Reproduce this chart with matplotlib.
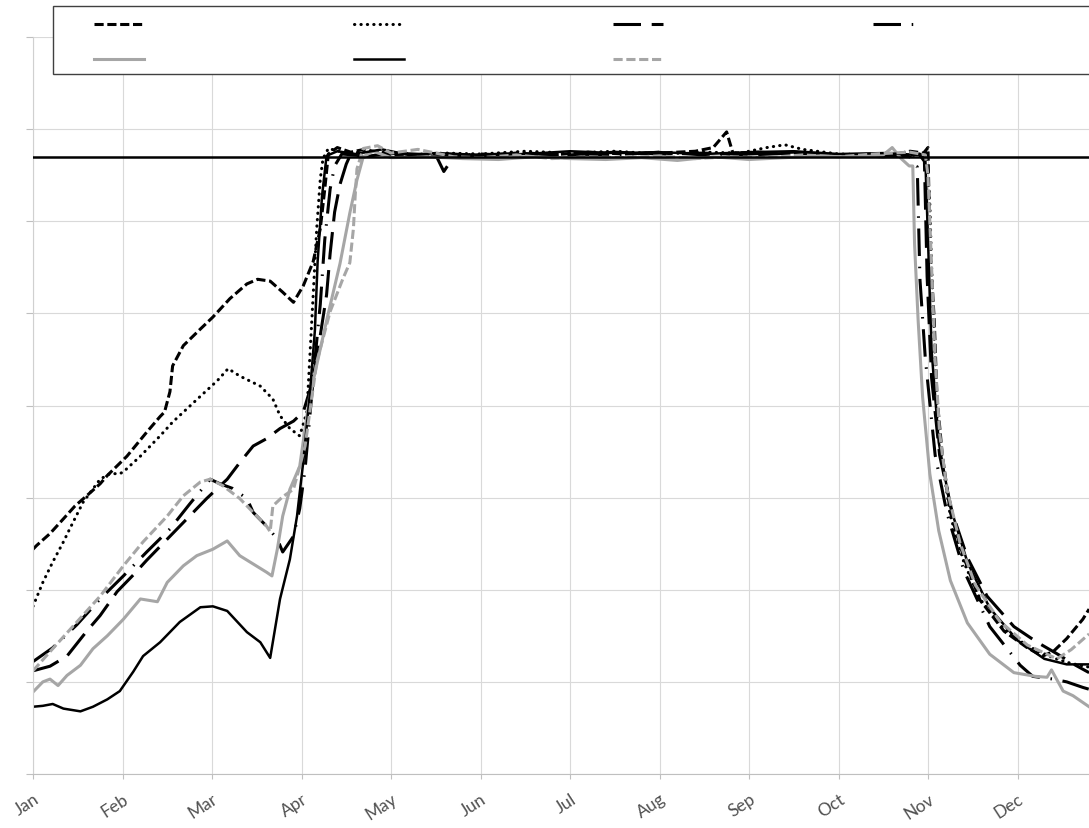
import matplotlib
matplotlib.use('Agg')
import matplotlib.pyplot as plt
from matplotlib.patches import Rectangle

# x positions are in months since 1 Jan (0 = Jan, 1 = Feb, ...), y in chart units
months = ['Jan', 'Feb', 'Mar', 'Apr', 'May', 'Jun', 'Jul', 'Aug', 'Sep', 'Oct', 'Nov', 'Dec']
limit_value = 67.0

dash_t = [0, 0.04, 0.19, 0.34, 0.47, 0.60, 0.75, 0.83, 1.05, 1.27, 1.42, 1.47, 1.53, 1.56, 1.68, 1.87, 2.01,
          2.20, 2.39, 2.51, 2.65, 2.79, 2.91, 3.02, 3.13, 3.21, 3.26, 3.30, 3.40, 3.55, 3.70, 4.0, 4.3, 4.6,
          5.0, 5.4, 5.8, 6.2, 6.6, 7.0, 7.4, 7.6, 7.75, 7.82, 8.1, 8.5, 8.9, 9.3, 9.6, 9.8, 9.95, 10.0,
          10.02, 10.07, 10.10, 10.16, 10.25, 10.40, 10.58, 10.85, 11.11, 11.28, 11.40, 11.55, 11.73, 11.80]
dash_v = [24.4, 24.8, 26.1, 27.7, 29.1, 30.2, 31.5, 32.4, 34.5, 37.1, 38.8, 39.3, 41.5, 44.3, 46.5, 48.3, 49.6,
          51.6, 53.2, 53.7, 53.5, 52.3, 51.2, 53.0, 55.6, 59.2, 63.5, 67.3, 68.0, 67.5, 67.8, 67.2, 67.0, 67.3,
          67.1, 67.4, 67.2, 67.5, 67.3, 67.4, 67.6, 68.0, 69.7, 67.4, 67.5, 67.3, 67.2, 67.1, 67.2, 67.6, 67.4, 68.0,
          57.5, 49.2, 40.9, 34.6, 28.4, 23.5, 18.9, 15.5, 13.7, 12.8, 13.3, 14.7, 16.8, 17.9]

dot_t = [0, 0.11, 0.22, 0.34, 0.41, 0.56, 0.75, 0.86, 0.97, 1.01, 1.20, 1.42, 1.56, 1.87, 2.06, 2.18, 2.31,
         2.54, 2.68, 2.76, 2.87, 2.98, 3.06, 3.09, 3.13, 3.17, 3.21, 3.24, 3.30, 3.5, 3.8, 4.2, 4.6, 5.0,
         5.5, 6.0, 6.5, 7.0, 7.5, 7.9, 8.2, 8.4, 8.6, 9.0, 9.4, 9.8, 9.98, 10.02, 10.04, 10.07, 10.10,
         10.16, 10.25, 10.40, 10.58, 10.85, 11.11, 11.40, 11.60, 11.80]
dot_v = [18.2, 20.8, 23.0, 25.2, 26.6, 29.5, 32.0, 32.6, 32.6, 32.8, 34.5, 36.7, 38.2, 41.0, 42.7, 44.0, 43.2,
         42.1, 40.7, 38.9, 37.5, 36.7, 39.3, 44.7, 51.9, 59.2, 64.6, 66.8, 67.9, 67.4, 67.6, 67.2, 67.4, 67.3,
         67.6, 67.4, 67.6, 67.3, 67.5, 67.4, 68.0, 68.3, 67.8, 67.3, 67.2, 67.1, 67.4, 62.0, 55.0, 47.0, 40.0,
         34.0, 28.0, 23.0, 19.0, 15.7, 13.9, 12.6, 12.0, 11.6]

longdash_t = [0, 0.19, 0.38, 0.60, 0.75, 0.94, 1.12, 1.27, 1.50, 1.72, 1.94, 2.17, 2.31, 2.46, 2.61, 2.76,
              2.91, 3.02, 3.12, 3.20, 3.28, 3.32, 3.37, 3.43, 3.50, 3.55, 3.7, 4.0, 4.5, 4.59, 4.7, 5.0, 5.5,
              6.0, 6.5, 7.0, 7.5, 8.0, 8.5, 9.0, 9.5, 9.9, 9.96, 9.99, 10.04, 10.13, 10.27, 10.44, 10.66,
              10.96, 11.22, 11.45, 11.65, 11.80]
longdash_v = [11.2, 11.7, 12.8, 15.5, 17.2, 19.8, 21.6, 23.2, 25.5, 27.7, 29.9, 32.0, 33.8, 35.6, 36.4, 37.5,
              38.3, 39.3, 42.5, 47.0, 52.0, 56.5, 61.0, 64.0, 66.2, 67.3, 67.0, 67.4, 67.2, 65.4, 67.0, 67.2, 67.4,
              67.2, 67.5, 67.3, 67.4, 67.2, 67.4, 67.2, 67.0, 67.3, 66.5, 54.0, 43.0, 34.6, 28.4, 23.5, 19.3,
              16.0, 14.3, 13.0, 11.8, 11.0]

dashdot_t = [0, 0.22, 0.49, 0.75, 1.01, 1.27, 1.53, 1.75, 1.92, 1.98, 2.09, 2.23, 2.39, 2.46, 2.61, 2.73,
             2.79, 2.91, 2.98, 3.04, 3.09, 3.15, 3.21, 3.26, 3.32, 3.37, 3.45, 3.7, 4.1, 4.5, 5.0, 5.5, 6.0,
             6.5, 7.0, 7.5, 8.0, 8.5, 9.0, 9.5, 9.8, 9.86, 9.88, 9.91, 9.97, 10.08, 10.21, 10.40, 10.69,
             11.03, 11.17, 11.40, 11.55, 11.73, 11.80]
dashdot_v = [12.2, 13.7, 16.2, 19.0, 21.5, 24.1, 26.6, 29.3, 31.3, 32.0, 31.5, 31.0, 29.9, 28.4, 26.9, 25.5,
             24.1, 25.8, 28.8, 33.1, 38.5, 45.0, 51.0, 58.0, 63.5, 66.0, 67.3, 67.1, 67.4, 67.0, 67.3, 67.1, 67.3,
             67.2, 67.5, 67.2, 67.3, 67.5, 67.1, 67.3, 67.0, 66.0, 65.9, 53.7, 45.1, 34.6, 28.4, 22.1, 16.0,
             11.8, 10.6, 10.3, 10.0, 9.4, 9.2]

gray_t = [0, 0.11, 0.19, 0.28, 0.38, 0.53, 0.67, 0.83, 1.01, 1.20, 1.39, 1.50, 1.68, 1.83, 2.01, 2.17, 2.31,
          2.46, 2.61, 2.67, 2.73, 2.79, 2.87, 2.98, 3.09, 3.28, 3.43, 3.54, 3.62, 3.69, 3.8, 4.0, 4.4, 4.8,
          5.2, 5.6, 6.0, 6.4, 6.8, 7.2, 7.6, 8.0, 8.4, 8.8, 9.2, 9.5, 9.6, 9.7, 9.79, 9.83, 9.85, 9.89,
          9.94, 10.02, 10.12, 10.25, 10.44, 10.69, 10.96, 11.20, 11.33, 11.38, 11.51, 11.62, 11.80]
gray_v = [8.9, 10.0, 10.3, 9.6, 10.7, 11.8, 13.6, 15.0, 16.8, 19.0, 18.7, 20.8, 22.6, 23.7, 24.4, 25.3, 23.7,
          22.8, 21.9, 21.5, 24.4, 28.0, 30.9, 33.4, 40.9, 49.2, 55.4, 60.9, 64.5, 67.0, 67.6, 66.9, 67.0, 66.8,
          66.7, 67.0, 66.8, 66.7, 66.9, 66.6, 67.0, 66.7, 66.9, 67.1, 67.0, 67.2, 68.0, 66.8, 66.0, 66.0, 57.5,
          49.2, 40.9, 32.6, 26.4, 21.0, 16.4, 13.0, 11.0, 10.6, 10.5, 11.3, 9.0, 8.5, 7.3]

solid_t = [0, 0.11, 0.22, 0.34, 0.53, 0.67, 0.83, 0.97, 1.12, 1.23, 1.42, 1.64, 1.87, 2.01, 2.17, 2.39, 2.54,
           2.65, 2.76, 2.87, 2.95, 3.02, 3.09, 3.15, 3.18, 3.23, 3.28, 3.4, 3.6, 3.9, 4.2, 4.5, 5.0, 5.5,
           6.0, 6.5, 7.0, 7.5, 8.0, 8.5, 9.0, 9.5, 9.9, 9.97, 10.0, 10.04, 10.12, 10.25, 10.44, 10.69, 11.0,
           11.3, 11.55, 11.80]
solid_v = [7.3, 7.4, 7.6, 7.1, 6.8, 7.3, 8.1, 9.0, 11.1, 12.8, 14.3, 16.5, 18.1, 18.2, 17.7, 15.4, 14.3,
           12.6, 19.0, 23.3, 28.0, 33.9, 40.9, 48.2, 55.6, 62.8, 67.1, 67.6, 67.3, 67.8, 67.2, 67.4, 67.2, 67.3,
           67.6, 67.4, 67.5, 67.3, 67.5, 67.6, 67.3, 67.4, 67.2, 66.8, 58.0, 46.0, 36.0, 29.0, 23.0, 18.0, 14.5,
           12.5, 11.9, 11.9]

graydash_t = [0, 0.22, 0.49, 0.75, 1.01, 1.23, 1.50, 1.68, 1.87, 1.98, 2.12, 2.31, 2.46, 2.61, 2.65, 2.68,
              2.79, 2.91, 2.98, 3.04, 3.17, 3.32, 3.46, 3.54, 3.58, 3.60, 3.62, 3.69, 3.85, 4.0, 4.3, 4.7,
              5.0, 5.4, 5.8, 6.2, 6.6, 7.0, 7.4, 7.8, 8.2, 8.6, 9.0, 9.4, 9.8, 9.97, 10.0, 10.04, 10.08,
              10.13, 10.21, 10.36, 10.53, 10.80, 11.11, 11.44, 11.60, 11.80]
graydash_v = [11.2, 13.6, 16.5, 19.3, 22.6, 25.2, 28.0, 30.2, 31.7, 32.0, 31.3, 29.9, 28.4, 26.9, 26.3, 29.1,
              30.1, 30.9, 33.4, 35.6, 44.7, 50.2, 53.7, 55.5, 59.2, 62.8, 65.7, 67.9, 68.2, 67.4, 67.8, 67.0,
              66.9, 67.2, 66.8, 67.0, 66.9, 67.1, 66.8, 67.0, 66.9, 67.2, 67.0, 67.3, 67.5, 67.2, 65.0, 55.0, 45.0,
              37.0, 31.0, 25.0, 20.5, 16.6, 14.0, 12.5, 13.5, 15.2]

W, H = 1089, 829
fig = plt.figure(figsize=(W / 100, H / 100), dpi=100)
ax = fig.add_axes([33 / W, (H - 775) / H, 1 - 33 / W, (775 - 38) / H])

lw = 2.2
gray = '#a6a6a6'
ax.axhline(limit_value, color='black', lw=1.8, zorder=3)
l_dash, = ax.plot(dash_t, dash_v, color='black', lw=lw, dashes=(3.0, 1.2))
l_dot, = ax.plot(dot_t, dot_v, color='black', lw=lw, dashes=(0.1, 2.0), dash_capstyle='round')
l_long, = ax.plot(longdash_t, longdash_v, color='black', lw=lw, dashes=(9, 3.5))
l_dd, = ax.plot(dashdot_t, dashdot_v, color='black', lw=lw, dashes=(9, 3.5, 0.5, 3.5))
l_gray, = ax.plot(gray_t, gray_v, color=gray, lw=lw)
l_solid, = ax.plot(solid_t, solid_v, color='black', lw=1.8)
l_gdash, = ax.plot(graydash_t, graydash_v, color=gray, lw=lw, dashes=(3.0, 1.2))

ax.set_xlim(0, (W - 33) / 89.5)
ax.set_ylim(0, 80)
ax.set_xticks(range(12))
ax.set_xticklabels(months, rotation=33, ha='right', rotation_mode='anchor',
                   fontsize=12.5, color='#505050', family='Lato')
ax.set_yticks(range(0, 81, 10))
ax.tick_params(axis='y', length=5, color='#bfbfbf', labelleft=False)
ax.tick_params(axis='x', length=3.6, color='#bfbfbf', pad=8)
ax.grid(True, color='#d9d9d9', lw=0.8)
ax.set_axisbelow(True)
for side in ['top', 'right']:
    ax.spines[side].set_visible(False)
ax.spines['bottom'].set_color('#bfbfbf')
ax.spines['left'].set_color('#d0d0d0')

# legend box (runs off the right edge like in the original)
box = Rectangle((53 / W, (H - 75) / H), (W + 20 - 53) / W, 68 / H, transform=fig.transFigure,
                facecolor='white', edgecolor='#404040', lw=1.0, zorder=4)
fig.add_artist(box)
handles = [l_dash, l_gray, l_dot, l_solid, l_long, l_gdash, l_dd]
fs = 10
px = fs * 100 / 72
leg = fig.legend(handles, [''] * 7, ncol=4, loc='upper left', bbox_to_anchor=(94 / W, (H - 19) / H),
                 frameon=False, fontsize=fs, handlelength=50 / px, handletextpad=0,
                 columnspacing=(259.5 - 50) / px, borderpad=0, borderaxespad=0, labelspacing=1.5)
leg.set_zorder(5)

fig.savefig('out.png', dpi=100)
